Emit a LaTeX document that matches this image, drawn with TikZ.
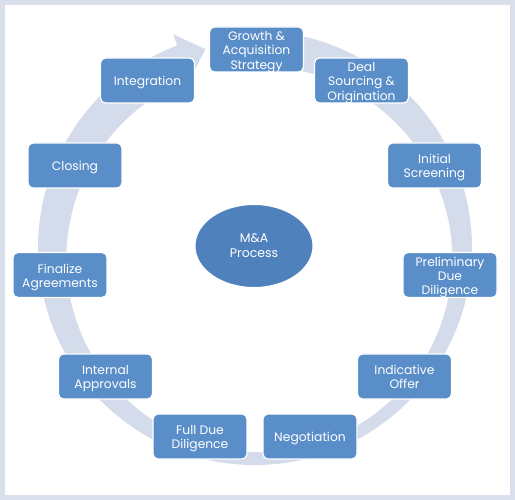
\documentclass[tikz,border=0pt]{standalone}
\usepackage{fontspec}
\setmainfont{Poppins}
\usetikzlibrary{shapes.geometric}
\definecolor{framecol}{RGB}{217,223,235}
\definecolor{ringcol}{RGB}{212,219,234}
\definecolor{boxcol}{RGB}{90,142,201}
\definecolor{ellcol}{RGB}{79,129,189}
\newcommand{\boxtext}[1]{\raisebox{-2.5pt}[\height][\depth]{\begin{tabular}{@{}c@{}}#1\end{tabular}}}
\tikzset{
  stepbox/.style={draw=white, line width=1.2pt, fill=boxcol, rounded corners=5pt,
    minimum width=94pt, minimum height=45pt, inner sep=1pt,
    text=white, font=\fontsize{12.3}{14}\selectfont},
  hub/.style={ellipse, draw=white, line width=1pt, fill=ellcol, minimum width=118pt,
    minimum height=83pt, inner sep=0pt, align=center, text=white,
    font=\fontsize{12.5}{15}\selectfont}
}
\begin{document}
\begin{tikzpicture}[x=1pt,y=1pt]
\useasboundingbox (0,0) rectangle (515,-500);
\fill[framecol] (0,0) rectangle (515,-500);
\fill[white] (5,-5) rectangle (510,-495);
% circular arrow
\begin{scope}[shift={(255,-248)}]
\fill[ringcol] (95:217) arc[start angle=95, end angle=-249, radius=217]
  -- (-249:229) -- (-256:205) -- (-249:181)
  arc[start angle=-249, end angle=95, radius=193] -- cycle;
\end{scope}
% hub
\node[hub] (hub) at (254,-246) {M\&A\\Process};
% steps
\renewcommand{\arraystretch}{1.02}
\node[stepbox] (s1) at (256.5,-49.5) {\boxtext{Growth \&\\Acquisition\\Strategy}};
\node[stepbox] (s2) at (361.5,-80.5) {\boxtext{Deal\\Sourcing \&\\Origination}};
\node[stepbox] (s3) at (434.5,-165.5) {\boxtext{Initial\\Screening}};
\node[stepbox] (s4) at (450,-275) {\boxtext{Preliminary\\Due\\Diligence}};
\node[stepbox] (s5) at (404.5,-376.5) {\boxtext{Indicative\\Offer}};
\node[stepbox] (s6) at (310,-436.5) {\boxtext{Negotiation}};
\node[stepbox] (s7) at (200,-436.5) {\boxtext{Full Due\\Diligence}};
\node[stepbox] (s8) at (105.5,-376.5) {\boxtext{Internal\\Approvals}};
\node[stepbox] (s9) at (60,-275) {\boxtext{Finalize\\Agreements}};
\node[stepbox] (s10) at (75,-165.5) {\boxtext{Closing}};
\node[stepbox] (s11) at (147.5,-80.5) {\boxtext{Integration}};
\end{tikzpicture}
\end{document}
